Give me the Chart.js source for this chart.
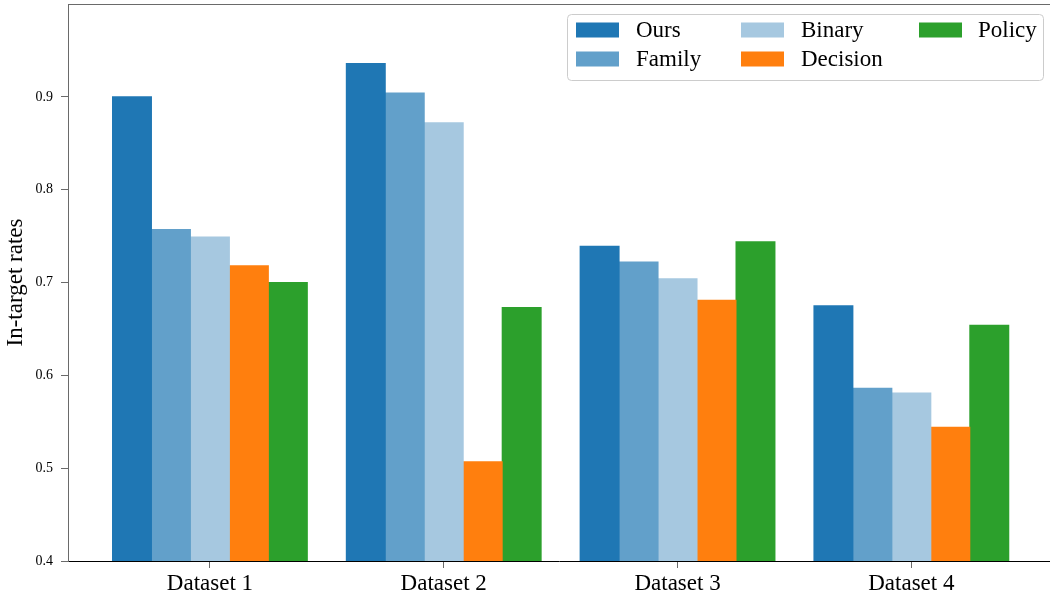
<!DOCTYPE html>
<html>
<head>
<meta charset="utf-8">
<script src="https://cdn.jsdelivr.net/npm/chart.js@4.4.0/dist/chart.umd.min.js"></script>
<style>
  html, body { margin: 0; padding: 0; background: #fff; }
  #wrap { width: 1050px; height: 599px; position: relative; }
</style>
</head>
<body>
<div id="wrap"><canvas id="c" width="1050" height="599"></canvas></div>
<script>
// ---- data ----
const categories = ['Dataset 1', 'Dataset 2', 'Dataset 3', 'Dataset 4'];
const methods = ['Ours', 'Family', 'Binary', 'Decision', 'Policy'];
const ours     = [0.900, 0.936, 0.739, 0.675];
const family   = [0.757, 0.904, 0.722, 0.586];
const binary   = [0.749, 0.872, 0.704, 0.581];
const decision = [0.718, 0.507, 0.681, 0.544];
const policy   = [0.700, 0.673, 0.744, 0.654];
const yTicks = [0.4, 0.5, 0.6, 0.7, 0.8, 0.9];
const yTitle = 'In-target rates';

// ---- styling ----
const colors = ['#1f77b4', '#62a0ca', '#a6c8e0', '#ff7f0e', '#2ca02c'];
const SERIF = '"Liberation Serif", "Times New Roman", serif';
const seriesValues = [ours, family, binary, decision, policy];

const datasets = methods.map((name, i) => ({
  label: name,
  data: seriesValues[i].map((v, j) => ({ x: j, y: v })),
  backgroundColor: colors[i],
  borderWidth: 0,
  inflateAmount: 0.5,
  categoryPercentage: 5 / 6,
  barPercentage: 1.0
}));

// top frame line
const topSpine = {
  id: 'topSpine',
  afterDraw(chart) {
    const { ctx, chartArea } = chart;
    ctx.save();
    ctx.strokeStyle = '#6a6a6a';
    ctx.lineWidth = 1;
    const y = Math.floor(chartArea.top) + 0.5;
    ctx.beginPath();
    ctx.moveTo(chartArea.left, y);
    ctx.lineTo(chartArea.right, y);
    ctx.stroke();
    ctx.restore();
  }
};

// legend in three columns, filled column by column
const boxLegend = {
  id: 'boxLegend',
  afterDraw(chart) {
    const { ctx } = chart;
    const bx = 567.5, by = 14.5, bw = 476, bh = 66, r = 4;
    ctx.save();
    ctx.beginPath();
    ctx.moveTo(bx + r, by);
    ctx.lineTo(bx + bw - r, by);
    ctx.arcTo(bx + bw, by, bx + bw, by + r, r);
    ctx.lineTo(bx + bw, by + bh - r);
    ctx.arcTo(bx + bw, by + bh, bx + bw - r, by + bh, r);
    ctx.lineTo(bx + r, by + bh);
    ctx.arcTo(bx, by + bh, bx, by + bh - r, r);
    ctx.lineTo(bx, by + r);
    ctx.arcTo(bx, by, bx + r, by, r);
    ctx.closePath();
    ctx.fillStyle = 'rgba(255,255,255,0.8)';
    ctx.fill();
    ctx.strokeStyle = '#cccccc';
    ctx.lineWidth = 1;
    ctx.stroke();

    const colX = [576, 741, 919];
    const textX = [636, 801, 978];
    const rowY = [30, 59];
    ctx.font = '23px ' + SERIF;
    ctx.textBaseline = 'middle';
    ctx.textAlign = 'left';
    chart.data.datasets.forEach((ds, i) => {
      const c = Math.floor(i / 2), rr = i % 2;
      ctx.fillStyle = ds.backgroundColor;
      ctx.fillRect(colX[c], rowY[rr] - 7.5, 43, 15);
      ctx.fillStyle = '#000';
      ctx.fillText(ds.label, textX[c], rowY[rr] + 1);
    });
    ctx.restore();
  }
};

new Chart(document.getElementById('c'), {
  type: 'bar',
  data: { datasets },
  plugins: [topSpine, boxLegend],
  options: {
    responsive: false,
    animation: false,
    devicePixelRatio: 1,
    layout: { padding: { top: 4, right: 0, left: 0, bottom: 0 } },
    plugins: { legend: { display: false }, tooltip: { enabled: false } },
    scales: {
      x: {
        type: 'linear',
        min: -0.607,
        max: 3.593,
        offset: false,
        z: 1,
        afterBuildTicks: s => { s.ticks = categories.map((_, i) => ({ value: i })); },
        afterFit: s => { s.height = 38; s.paddingLeft = 0; s.paddingRight = 0; },
        ticks: {
          callback: v => categories[v],
          font: { family: SERIF, size: 23 },
          color: '#000',
          padding: 2,
          maxRotation: 0,
          autoSkip: false
        },
        grid: { offset: false, drawOnChartArea: false, drawTicks: true, tickLength: 7, tickColor: '#6a6a6a', tickWidth: 1 },
        border: { display: true, color: '#000', width: 1 }
      },
      y: {
        min: 0.4,
        max: 1.0,
        z: 1,
        afterBuildTicks: s => { s.ticks = yTicks.map(v => ({ value: v })); },
        afterFit: s => { s.width = 68; s.paddingTop = 0; s.paddingBottom = 0; },
        ticks: {
          callback: v => v.toFixed(1),
          font: { family: SERIF, size: 14 },
          color: '#000',
          padding: 8
        },
        grid: { drawOnChartArea: false, drawTicks: true, tickLength: 7, tickColor: '#6a6a6a', tickWidth: 1 },
        border: { display: true, color: '#6a6a6a', width: 1 },
        title: {
          display: true,
          text: yTitle,
          font: { family: SERIF, size: 23 },
          color: '#000',
          padding: { top: 2, bottom: 0 }
        }
      }
    }
  }
});
</script>
</body>
</html>
